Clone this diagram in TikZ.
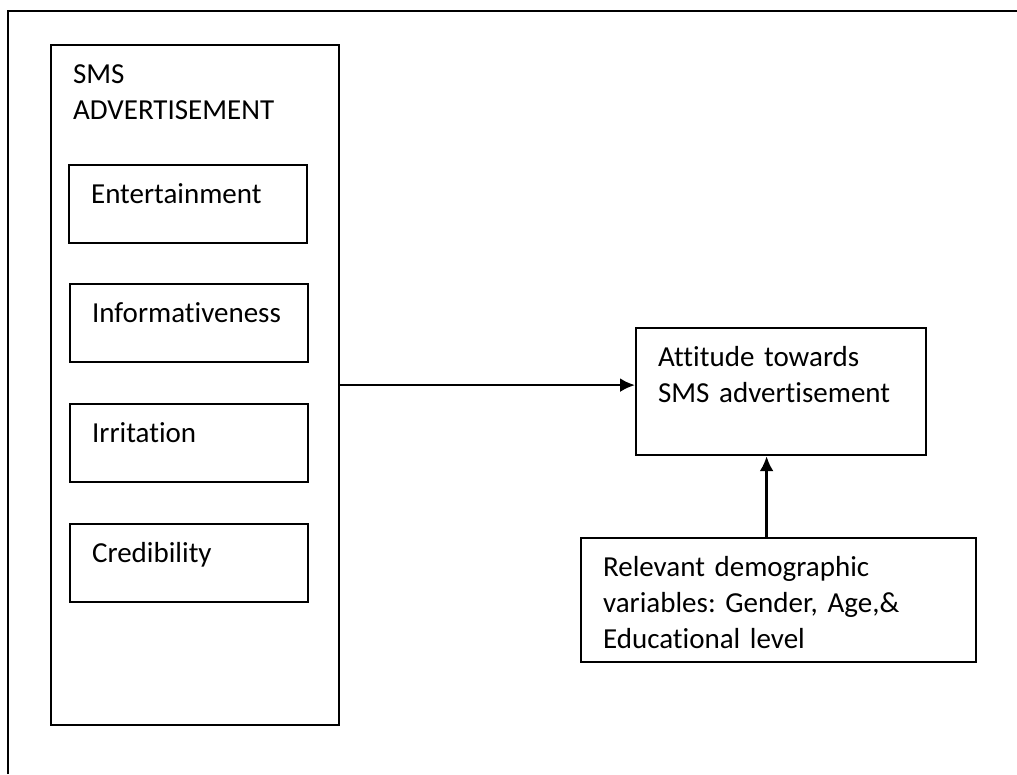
\documentclass[tikz,border=0pt]{standalone}
\usepackage{fontspec}
\setmainfont{Carlito}[Ligatures=NoCommon]
\usetikzlibrary{positioning, arrows.meta, calc}

\tikzset{
    box/.style={draw, line width=2.2pt, anchor=north west, inner xsep=22pt, inner ysep=0pt,
        text height=38pt, align=left, font=\fontsize{29}{36}\selectfont\frenchspacing},
    smallbox/.style={box, text width=194pt, text depth=40pt}
}

\begin{document}
\begin{tikzpicture}[x=1pt, y=-1pt, >={Latex[length=15pt, width=14pt]}]
                \useasboundingbox (0,0) rectangle (1017,774);

                % Frame
                \draw[line width=2.8pt] (8,774) -- (8,11) -- (1017,11);

                % SMS advertisement
                \node[box, text width=244pt, text depth=642pt] (sms) at (50,44) {SMS\\ADVERTISEMENT};
                \node[smallbox] (ent) at (68,164) {Entertainment};
                \node[smallbox] (inf) at (69,283) {Informativeness};
                \node[smallbox] (irr) at (69,403) {Irritation};
                \node[smallbox] (cred) at (69,523) {Credibility};

                % Attitude
                \node[box, text width=246pt, text depth=89pt] (att) at (635,327) {Attitude towards\\SMS advertisement};

                % Demographics
                \node[box, text width=351pt, text depth=86pt] (demo) at (580,537) {Relevant demographic\\variables: Gender, Age,\&\\Educational level};

                % Arrows
                \coordinate (demotop) at ($(demo.north)+(-12,0)$);
                \draw[->, line width=2.6pt] (sms.east) -- (sms.east -| att.west);
                \draw[->, line width=2.6pt] (demotop) -- (demotop |- att.south);
            \end{tikzpicture}
\end{document}
